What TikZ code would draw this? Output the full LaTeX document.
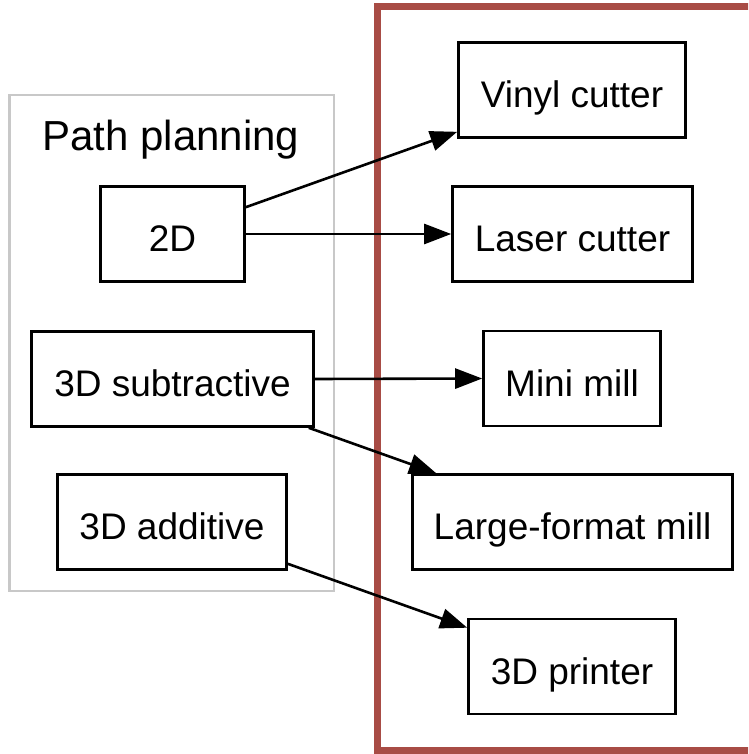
\documentclass[tikz,border=0pt]{standalone}
\usepackage{fontspec}
\setmainfont{Liberation Sans}
\usetikzlibrary{arrows.meta,calc}
\definecolor{frame}{HTML}{A84C45}
\definecolor{cluster}{HTML}{C8C8C8}
\begin{document}
\begin{tikzpicture}[x=1pt,y=-1pt,
  box/.style={draw=black,line width=2.6pt,inner sep=0pt,minimum height=95pt,
    text height=35pt,text depth=0pt,font=\fontsize{37}{44}\selectfont},
  link/.style={line width=2.6pt,-{Triangle[length=27pt,width=20pt]}}]
\useasboundingbox (0,0) rectangle (748,754);
\clip (0,0) rectangle (748,754);
\fill[white] (0,0) rectangle (748,754);

% machine frame and path planning cluster
\draw[frame,line width=7.5pt] (377.5,6.5) rectangle (770,750.5);
\draw[cluster,line width=2.2pt] (9.5,95) rectangle (334,591);
\node[anchor=base,font=\fontsize{42}{50}\selectfont] (title) at (171,150) {Path planning};

% path planning nodes
\node[box,minimum width=144pt] (d2)  at (172.5,234) {2D};
\node[box,minimum width=282pt] (sub) at (172.5,379) {3D subtractive};
\node[box,minimum width=229pt] (add) at (172,522) {3D additive};

% machines
\node[box,minimum width=227pt] (vinyl)   at (572,90)    {Vinyl cutter};
\node[box,minimum width=240pt] (laser)   at (572.5,234) {Laser cutter};
\node[box,minimum width=177pt] (mini)    at (572,378.5) {Mini mill};
\node[box,minimum width=320pt] (large)   at (572.5,522) {Large-format mill};
\node[box,minimum width=207pt] (printer) at (572,666.5) {3D printer};

% connectors
\draw[link] ($(d2.north east)+(0,22)$) -- ($(vinyl.south west)+(0,-7)$);
\draw[link] (d2.east) -- (laser.west);
\draw[link] (sub.east) -- (mini.west);
\draw[link] ($(sub.south east)+(-6,0)$) -- ($(large.north west)+(25,0)$);
\draw[link] ($(add.south east)+(0,-7)$) -- ($(printer.north west)+(0,10)$);
\end{tikzpicture}
\end{document}
